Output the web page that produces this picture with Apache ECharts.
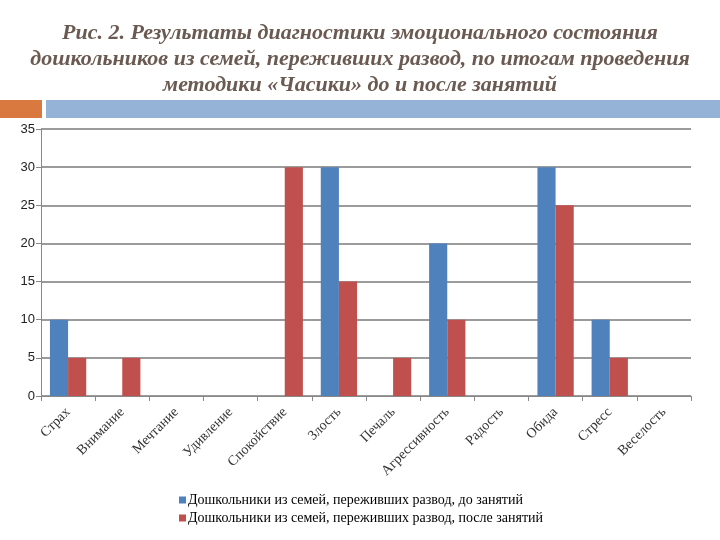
<!DOCTYPE html>
<html><head><meta charset="utf-8">
<script src="https://cdn.jsdelivr.net/npm/echarts@6/dist/echarts.min.js"></script>
<style>html,body{margin:0;padding:0;background:#fff}#c{width:720px;height:540px}</style>
</head><body><div id="c"></div>
<script>
const categories = ['Страх','Внимание','Мечтание','Удивление','Спокойствие','Злость','Печаль','Агрессивность','Радость','Обида','Стресс','Веселость'];
const seriesNames = ['Дошкольники из семей, переживших развод, до занятий','Дошкольники из семей, переживших развод, после занятий'];
const beforeValues = [10,0,0,0,0,30,0,20,0,30,10,0];
const afterValues = [5,5,0,0,30,15,5,10,0,25,5,0];
const yTicks = [0,5,10,15,20,25,30,35];
const titleText = 'Рис. 2. Результаты диагностики эмоционального состояния\nдошкольников из семей, переживших развод, по итогам проведения\nметодики «Часики» до и после занятий';

const chart = echarts.init(document.getElementById('c'));
chart.setOption({
  animation:false,
  title:{text:titleText,left:'center',top:15,textStyle:{fontFamily:'Liberation Serif',fontStyle:'italic',fontWeight:'bold',fontSize:22,color:'#6a5a52',lineHeight:26}},
  graphic:[
    {type:'rect',shape:{x:0,y:100,width:42,height:18},style:{fill:'#d9793f'}},
    {type:'rect',shape:{x:46,y:100,width:674,height:18},style:{fill:'#95b3d7'}}
  ],
  grid:{left:41,right:29,top:129,bottom:144},
  legend:{orient:'vertical',left:174,top:488,itemWidth:7,itemHeight:7,itemGap:4,icon:'rect',
    textStyle:{fontFamily:'Liberation Serif',fontSize:14,color:'#000',padding:[0,0,0,-3]},data:seriesNames},
  xAxis:{type:'category',data:categories,
    axisLine:{lineStyle:{color:'#888'}},axisTick:{show:true,alignWithLabel:false,length:5,lineStyle:{color:'#888'}},
    axisLabel:{rotate:45,interval:0,fontFamily:'Liberation Serif',fontSize:14,color:'#333',margin:14}},
  yAxis:{type:'value',min:0,max:35,interval:5,
    axisLine:{show:true,lineStyle:{color:'#888'}},axisTick:{show:true,length:5,lineStyle:{color:'#888'}},
    splitLine:{lineStyle:{color:'#7a7a7a',width:1.5}},
    axisLabel:{fontFamily:'Liberation Sans',fontSize:13,color:'#222',margin:6,
      formatter:v=>yTicks.includes(v)?String(v):''}},
  series:[
    {name:seriesNames[0],type:'bar',data:beforeValues,barGap:'0%',barCategoryGap:'33%',itemStyle:{color:'#4f81bd'}},
    {name:seriesNames[1],type:'bar',data:afterValues,barGap:'0%',barCategoryGap:'33%',itemStyle:{color:'#c0504d'}}
  ]
});
</script></body></html>
